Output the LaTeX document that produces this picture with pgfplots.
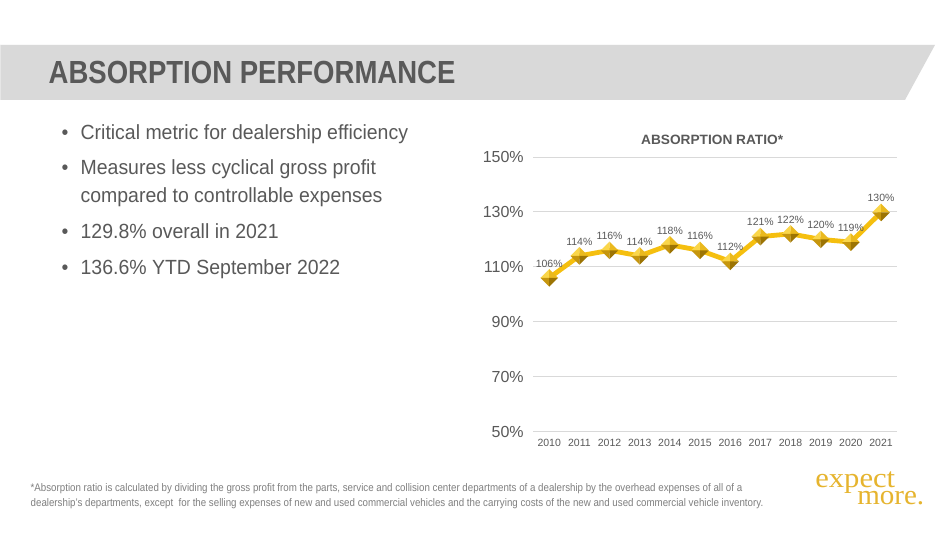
\documentclass[border=0pt]{standalone}
\usepackage{pgfplots}
\pgfplotsset{compat=1.18}
\usepackage{graphicx}
\usepackage{fontspec}
\setmainfont{Liberation Sans}
\newfontfamily\bulletfont{Liberation Sans}[FakeStretch=0.95]
\newfontfamily\logofont{Liberation Serif}
\definecolor{txt}{HTML}{595959}
\definecolor{band}{HTML}{D9D9D9}
\definecolor{foot}{HTML}{7F7F7F}
\definecolor{gold}{HTML}{F5BF0F}
\definecolor{logo}{HTML}{E6B42E}
\definecolor{gemA}{HTML}{FAD64A}
\definecolor{gemB}{HTML}{EAB91E}
\definecolor{gemC}{HTML}{C6960E}
\definecolor{gemD}{HTML}{9C7404}
\definecolor{gridc}{HTML}{D9D9D9}
\pgfdeclareplotmark{gem}{%
  \pgfsetfillcolor{gemA}%
  \pgfpathmoveto{\pgfpointorigin}\pgfpathlineto{\pgfpoint{-\pgfplotmarksize}{0pt}}\pgfpathlineto{\pgfpoint{0pt}{\pgfplotmarksize}}\pgfpathclose\pgfusepath{fill}%
  \pgfsetfillcolor{gemB}%
  \pgfpathmoveto{\pgfpointorigin}\pgfpathlineto{\pgfpoint{\pgfplotmarksize}{0pt}}\pgfpathlineto{\pgfpoint{0pt}{\pgfplotmarksize}}\pgfpathclose\pgfusepath{fill}%
  \pgfsetfillcolor{gemC}%
  \pgfpathmoveto{\pgfpointorigin}\pgfpathlineto{\pgfpoint{-\pgfplotmarksize}{0pt}}\pgfpathlineto{\pgfpoint{0pt}{-\pgfplotmarksize}}\pgfpathclose\pgfusepath{fill}%
  \pgfsetfillcolor{gemD}%
  \pgfpathmoveto{\pgfpointorigin}\pgfpathlineto{\pgfpoint{\pgfplotmarksize}{0pt}}\pgfpathlineto{\pgfpoint{0pt}{-\pgfplotmarksize}}\pgfpathclose\pgfusepath{fill}%
}
\pgfplotstableread{
x y
0 106
1 114
2 116
3 114
4 118
5 116
6 112
7 121
8 122
9 120
10 119
11 129.8
}\ratio
\begin{document}
\begin{tikzpicture}[x=1pt,y=1pt]
\fill[white] (0,0) rectangle (950,534);
% title band
\fill[band] (0,489) -- (935,489) -- (905,434) -- (0,434) -- cycle;
\draw[white!85!band, line width=1pt] (0,489.5) -- (935,489.5);
\node[anchor=base west, inner sep=0, text=txt] at (48,450)
  {\resizebox{407pt}{\height}{\fontsize{32}{32}\selectfont\bfseries ABSORPTION PERFORMANCE}};
% bullets
\begin{scope}[every node/.style={anchor=base west, inner sep=0, text=txt, font=\bulletfont\fontsize{20.5}{22}\selectfont}]
\node at (61,394) {\textbullet};
\node at (80,394) {Critical metric for dealership efficiency};
\node at (61,359) {\textbullet};
\node at (80,359) {Measures less cyclical gross profit};
\node at (80,331) {compared to controllable expenses};
\node at (61,295) {\textbullet};
\node at (80,295) {129.8\% overall in 2021};
\node at (61,259) {\textbullet};
\node at (80,259) {136.6\% YTD September 2022};
\end{scope}
% chart title
\node[text=txt, inner sep=0] at (712,394)
  {\resizebox{142pt}{\height}{\fontsize{13.5}{13.5}\selectfont\bfseries ABSORPTION RATIO*}};
\begin{axis}[
  at={(533pt,102pt)}, anchor=south west,
  scale only axis, width=364pt, height=275pt,
  xmin=-0.53, xmax=11.53, ymin=50, ymax=150,
  clip=false,
  axis line style={draw=none},
  tick style={draw=none},
  ymajorgrids, grid style={color=gridc, line width=0.8pt},
  ytick={50,70,90,110,130,150},
  yticklabel={\pgfmathprintnumber{\tick}\%},
  xtick={0,1,2,3,4,5,6,7,8,9,10,11},
  xticklabels={2010,2011,2012,2013,2014,2015,2016,2017,2018,2019,2020,2021},
  /pgf/number format/assume math mode=true,
  yticklabel style={font=\fontsize{16}{16}\selectfont, text=txt, xshift=-6pt},
  xticklabel style={font=\fontsize{10.5}{10.5}\selectfont, text=txt, yshift=-4pt},
  nodes near coords={\pgfmathprintnumber[fixed,precision=0]{\pgfplotspointmeta}\%},
  every node near coord/.append style={font=\fontsize{10.5}{10.5}\selectfont, text=txt, anchor=south, yshift=5pt},
]
\addplot[color=gold, line width=4.8pt, mark=gem, mark size=8.8pt, line join=round] table[x=x,y=y] {\ratio};
\end{axis}
% footnote
\node[anchor=base west, inner sep=0, text=foot] at (30,42)
  {\resizebox{712pt}{\height}{\fontsize{11}{11}\selectfont *Absorption ratio is calculated by dividing the gross profit from the parts, service and collision center departments of a dealership by the overhead expenses of all of a}};
\node[anchor=base west, inner sep=0, text=foot] at (30,27)
  {\resizebox{733pt}{\height}{\fontsize{11}{11}\selectfont dealership's departments, except\ \ for the selling expenses of new and used commercial vehicles and the carrying costs of the new and used commercial vehicle inventory.}};
% logo (one text block, two stacked words)
\node[anchor=base west, inner sep=0, text=logo] at (815,29)
  {\logofont\fontsize{28}{28}\selectfont\rlap{\raisebox{17pt}{\resizebox{80pt}{\height}{expect}}}\hspace{42pt}\resizebox{67pt}{\height}{more.}};
\end{tikzpicture}
\end{document}
